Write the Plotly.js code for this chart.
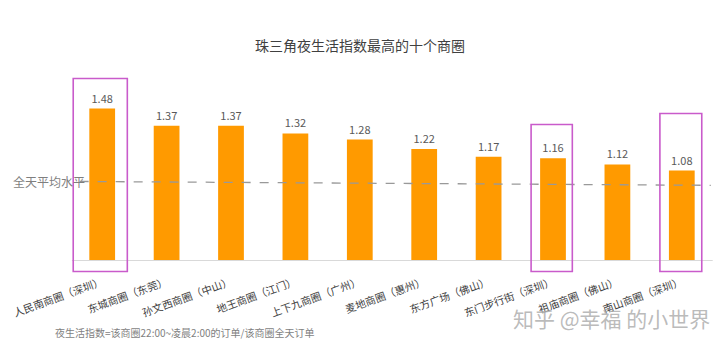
<!DOCTYPE html>
<html>
<head>
<meta charset="utf-8">
<script src="https://cdn.plot.ly/plotly-3.0.1.min.js"></script>
<style>html,body{margin:0;padding:0;background:#fff;}#chart{width:720px;height:341px;}</style>
</head>
<body>
<div id="chart"></div>
<script>
const categories = ['人民南商圈（深圳）','东城商圈（东莞）','孙文西商圈（中山）','地王商圈（江门）','上下九商圈（广州）','麦地商圈（惠州）','东方广场（佛山）','东门步行街（深圳）','祖庙商圈（佛山）','南山商圈（深圳）'];
const nightIndex = [1.48, 1.37, 1.37, 1.32, 1.28, 1.22, 1.17, 1.16, 1.12, 1.08];
const dayAverage = 1.0;
const axisBase = 0.5;
const highlighted = [0, 7, 9];

const FONT = '"Noto Sans CJK SC", "Noto Sans", sans-serif';
const Y0 = 0.4, Y1 = 1.9226;

const trace = {
  type: 'bar',
  x: categories.map((c, i) => i),
  y: nightIndex.map(v => v - axisBase),
  base: axisBase,
  text: nightIndex.map(v => v.toFixed(2)),
  textposition: 'outside',
  textfont: {family: FONT, size: 11, color: '#595959'},
  cliponaxis: false,
  marker: {color: '#FF9A00'},
  width: 0.4,
  hoverinfo: 'skip'
};

const boxSpec = [
  {x0: -0.45, x1: 0.39, top: 1.674},
  {x0: -0.34, x1: 0.30, top: 1.377},
  {x0: -0.34, x1: 0.31, top: 1.448}
];
const shapes = [
  {type: 'line', xref: 'paper', yref: 'y', x0: 0.003, x1: 0.998, y0: axisBase, y1: axisBase,
   line: {color: '#d9d9d9', width: 1}},
  {type: 'line', xref: 'x', yref: 'y', x0: -0.35, x1: 9.45, y0: dayAverage + 0.01, y1: dayAverage - 0.015,
   line: {color: '#999999', width: 1.3, dash: 'dash'}}
];
highlighted.forEach((idx, k) => {
  const b = boxSpec[k];
  shapes.push({type: 'rect', xref: 'x', yref: 'y', x0: idx + b.x0, x1: idx + b.x1, y0: 0.429, y1: b.top,
    line: {color: '#C95BCB', width: 1.6}, fillcolor: 'rgba(0,0,0,0)'});
});

const layout = {
  width: 720, height: 341,
  margin: {l: 70, r: 6, t: 40, b: 65},
  paper_bgcolor: '#ffffff', plot_bgcolor: '#ffffff',
  showlegend: false,
  title: {text: '珠三角夜生活指数最高的十个商圈', font: {family: FONT, size: 14, color: '#404040'},
          x: 0.5, xanchor: 'center', y: 1 - 46/341, yanchor: 'middle', yref: 'container'},
  xaxis: {
    range: [-0.5, 9.5], tickmode: 'array', tickvals: categories.map((c, i) => i), ticktext: categories,
    tickangle: -20, tickfont: {family: FONT, size: 10.5, color: '#404040'},
    ticklabelstandoff: 13,
    showgrid: false, zeroline: false, showline: false, ticks: '',
    anchor: 'free', position: (axisBase - Y0) / (Y1 - Y0), fixedrange: true
  },
  yaxis: {range: [Y0, Y1], visible: false, showgrid: false, zeroline: false, fixedrange: true},
  shapes: shapes,
  annotations: [
    {text: '全天平均水平', xref: 'paper', yref: 'y', x: (87 - 70) / 644, y: dayAverage + 0.01,
     xanchor: 'right', yanchor: 'middle', showarrow: false, font: {family: FONT, size: 12, color: '#7f7f7f'}},
    {text: '夜生活指数=该商圈22:00~凌晨2:00的订单/该商圈全天订单', xref: 'paper', yref: 'paper',
     x: (53 - 70) / 644, y: -(332 - 276) / 236, xanchor: 'left', yanchor: 'middle', showarrow: false,
     font: {family: FONT, size: 10, color: '#7f7f7f'}},
    {text: '知乎 @幸福 的小世界', xref: 'paper', yref: 'paper',
     x: (712 - 70) / 644, y: -(318 - 276) / 236, xanchor: 'right', yanchor: 'middle', showarrow: false,
     font: {family: FONT, size: 21, color: 'rgba(175,175,175,0.85)'}}
  ]
};

Plotly.newPlot('chart', [trace], layout, {displayModeBar: false, staticPlot: true});
</script>
</body>
</html>
